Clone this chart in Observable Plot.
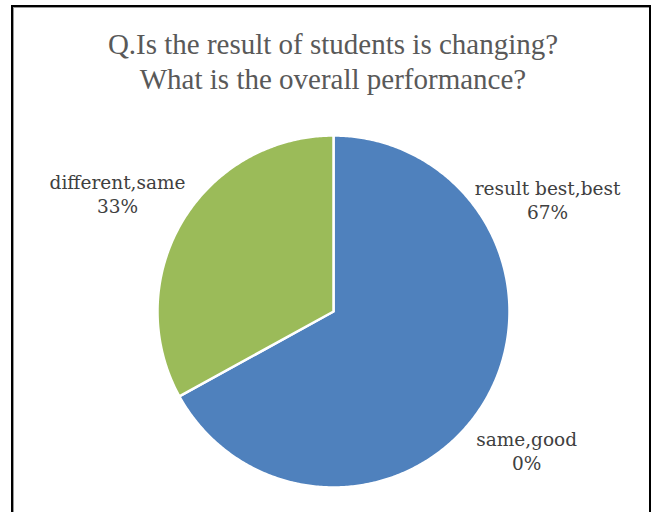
<!DOCTYPE html>
<html>
<head>
<meta charset="utf-8">
<script src="https://cdn.jsdelivr.net/npm/d3@7"></script>
<script src="https://cdn.jsdelivr.net/npm/@observablehq/plot@0.6"></script>
<style>
  html, body { margin: 0; padding: 0; background: #fff; }
  #wrap { position: relative; width: 657px; height: 512px; overflow: hidden; background: #fff; }
  #frame { position: absolute; left: 11px; top: 5px; width: 640px; height: 560px; border: 2px solid #000; box-sizing: border-box; box-shadow: inset 1px 1px 0 #999; }
  #title { position: absolute; left: 0; top: 0; width: 666px; height: 110px; text-align: center;
           font-family: "Liberation Serif", serif; font-size: 29px; line-height: 35px; color: #595959; padding-top: 27px; box-sizing: border-box; }
  #chart { position: absolute; left: 0; top: 110px; }
</style>
</head>
<body>
<div id="wrap">
  <div id="frame"></div>
  <div id="title">Q.Is the result of students is changing?<br>What is the overall performance?</div>
  <div id="chart"></div>
</div>
<script>
// ---- data ----
const categories = ["result best,best", "same,good", "different,same"];
const values = [67, 0, 33];
const percentLabels = ["67%", "0%", "33%"];
const colors = ["#4F81BD", "#C0504D", "#9BBB59"];

// ---- layout (label anchors in pie-radius units, not data) ----
const labelAnchors = [[1.216, 0.64], [1.097, -0.79], [-1.227, 0.67]];

const arcs = d3.pie().sort(null).value(d => d)(values);
const slicePoints = [];
arcs.forEach((a, i) => {
  if (a.endAngle - a.startAngle <= 0) return;
  const n = Math.max(2, Math.ceil((a.endAngle - a.startAngle) / 0.01));
  slicePoints.push({cat: categories[i], x: 0, y: 0});
  for (let k = 0; k <= n; k++) {
    const t = a.startAngle + (a.endAngle - a.startAngle) * k / n;
    slicePoints.push({cat: categories[i], x: Math.sin(t), y: Math.cos(t)});
  }
  slicePoints.push({cat: categories[i], x: 0, y: 0});
});

const labels = categories.map((c, i) => ({
  text: c + "\n" + percentLabels[i], x: labelAnchors[i][0], y: labelAnchors[i][1]
}));

const chart = Plot.plot({
  width: 657,
  height: 402,
  marginLeft: 157,
  marginRight: 148,
  marginTop: 25,
  marginBottom: 25,
  x: {domain: [-1, 1], axis: null},
  y: {domain: [-1, 1], axis: null},
  color: {domain: categories, range: colors},
  style: {background: "transparent", overflow: "visible"},
  marks: [
    Plot.line(slicePoints, {x: "x", y: "y", z: "cat", fill: "cat", stroke: "#fff", strokeWidth: 2.5, strokeLinejoin: "round", curve: "linear"}),
    Plot.text(labels, {x: "x", y: "y", text: "text", fill: "#404040", fontSize: 18.5, lineHeight: 1.3,
      fontFamily: "DejaVu Serif", textAnchor: "middle"})
  ]
});
document.getElementById("chart").appendChild(chart);
</script>
</body>
</html>
